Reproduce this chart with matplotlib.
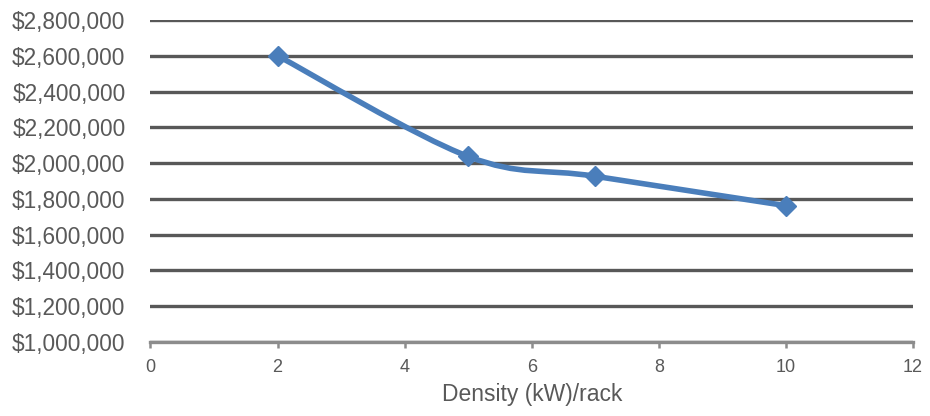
import matplotlib
matplotlib.use("Agg")
import matplotlib.pyplot as plt
from matplotlib.path import Path
from matplotlib.patches import PathPatch
from matplotlib.ticker import FuncFormatter

density = [2, 5, 7, 10]
cost = [2600000, 2037000, 1926000, 1762000]
x_ticks = [0, 2, 4, 6, 8, 10, 12]
y_ticks = [1000000, 1200000, 1400000, 1600000, 1800000, 2000000, 2200000, 2400000, 2600000, 2800000]
x_label = "Density (kW)/rack"

plt.rcParams['font.family'] = ['Liberation Sans', 'DejaVu Sans']
text_color = '#595959'
line_color = '#4A7EBB'

fig = plt.figure(figsize=(9.3, 4.16), dpi=100)
ax = fig.add_axes([0.1618, 0.178, 0.8199, 0.774])

# smooth (Excel-style) line through the data points
pts = list(zip(density, cost))
verts = [pts[0]]
codes = [Path.MOVETO]
n = len(pts)
for i in range(n - 1):
    p0 = pts[i - 1] if i > 0 else pts[i]
    p1 = pts[i]
    p2 = pts[i + 1]
    p3 = pts[i + 2] if i + 2 < n else pts[i + 1]
    c1 = (p1[0] + (p2[0] - p0[0]) / 6, p1[1] + (p2[1] - p0[1]) / 6)
    c2 = (p2[0] - (p3[0] - p1[0]) / 6, p2[1] - (p3[1] - p1[1]) / 6)
    verts += [c1, c2, p2]
    codes += [Path.CURVE4] * 3
patch = PathPatch(Path(verts, codes), facecolor='none', edgecolor=line_color,
                  lw=4.0, zorder=3, capstyle='round', joinstyle='round')
ax.add_patch(patch)
ax.plot(density, cost, linestyle='none', marker='D', markersize=10,
        color=line_color, zorder=4)

ax.set_xlim(0, 12)
ax.set_ylim(1000000, 2800000)
ax.set_xticks(x_ticks)
ax.set_yticks(y_ticks)
ax.yaxis.set_major_formatter(FuncFormatter(lambda v, p: "${:,.0f}".format(v)))

ax.grid(axis='y', color='#585858', lw=2.4, zorder=1)
ax.set_axisbelow(True)
for s in ['top', 'right', 'left']:
    ax.spines[s].set_visible(False)
ax.spines['bottom'].set_color('#8c8c8c')
ax.spines['bottom'].set_linewidth(2.4)
ax.spines['bottom'].set_zorder(2)

ax.tick_params(axis='y', length=0, pad=18, labelsize=16.3, labelcolor=text_color)
ax.tick_params(axis='x', length=4, width=1.8, color='#8c8c8c', direction='out',
               pad=8, labelsize=13, labelcolor=text_color)
ax.set_xlabel(x_label, fontsize=16.5, color=text_color, labelpad=5)
ax.set_facecolor('white')

fig.savefig("out.png", dpi=100, facecolor='white')
